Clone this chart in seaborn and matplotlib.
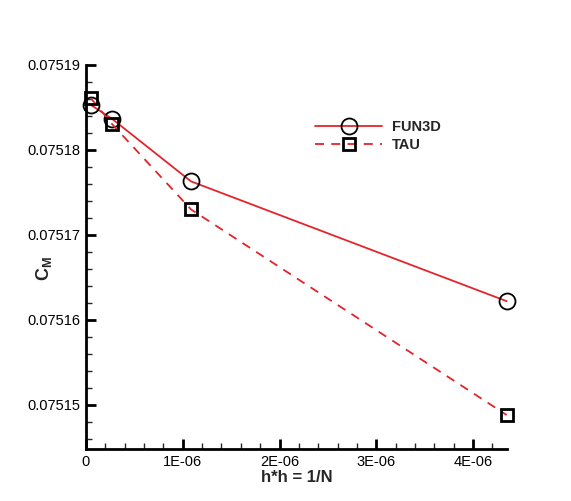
import matplotlib
matplotlib.use("Agg")
import matplotlib.pyplot as plt
import seaborn as sns
import pandas as pd
from matplotlib.ticker import MultipleLocator, FuncFormatter

# Data
h2 = [5.0e-8, 2.65e-7, 1.085e-6, 4.346e-6]
fun3d = [0.0751853, 0.0751837, 0.0751763, 0.0751622]
tau = [0.0751861, 0.0751831, 0.0751730, 0.0751488]
series_names = ["FUN3D", "TAU"]

sns.set_style("white")
plt.rcParams['font.family'] = ['Liberation Sans', 'DejaVu Sans']
plt.rcParams['mathtext.fontset'] = 'custom'
plt.rcParams['mathtext.bf'] = 'Liberation Sans:weight=bold'
plt.rcParams['mathtext.rm'] = 'Liberation Sans'
plt.rcParams['mathtext.it'] = 'Liberation Sans:weight=bold'
plt.rcParams['mathtext.default'] = 'bf'

fig = plt.figure(figsize=(5.71, 5.01), dpi=100)
ax = fig.add_axes([86/571, 1-449/501, (507-86)/571, (449-65)/501])

red = "#e3242b"
df1 = pd.DataFrame({"x": h2, "y": fun3d})
df2 = pd.DataFrame({"x": h2, "y": tau})
sns.lineplot(data=df1, x="x", y="y", ax=ax, color=red, lw=1.3, marker="o",
             markersize=11.5, markerfacecolor="none", markeredgecolor="black",
             markeredgewidth=1.3, label=series_names[0], sort=False, clip_on=False)
sns.lineplot(data=df2, x="x", y="y", ax=ax, color=red, lw=1.3, linestyle=(0, (5, 4)),
             marker="s", markersize=8.5, markerfacecolor="none", markeredgecolor="black",
             markeredgewidth=2.0, label=series_names[1], sort=False, clip_on=False)

ax.set_xlim(0, 4.35e-6)
ax.set_ylim(0.0751448, 0.07519)

for s in ["top", "right"]:
    ax.spines[s].set_visible(False)
for s in ["left", "bottom"]:
    ax.spines[s].set_linewidth(2.0)
    ax.spines[s].set_color("black")

ax.xaxis.set_major_locator(MultipleLocator(1e-6))
ax.xaxis.set_minor_locator(MultipleLocator(2e-7))
ax.yaxis.set_major_locator(MultipleLocator(1e-5))
ax.yaxis.set_minor_locator(MultipleLocator(2e-6))

def xfmt(v, p):
    if abs(v) < 1e-12:
        return "0"
    return "%dE-06" % round(v / 1e-6)
ax.xaxis.set_major_formatter(FuncFormatter(xfmt))
ax.yaxis.set_major_formatter(FuncFormatter(lambda v, p: "%.5f" % v))

ax.tick_params(which="major", direction="in", length=7, width=2, labelsize=10.5, pad=4, colors="black",
               bottom=True, left=True)
ax.tick_params(which="minor", direction="in", length=4, width=1, bottom=True, left=True)

ax.set_xlabel("h*h = 1/N", fontsize=12, fontweight="bold", labelpad=1)
ax.set_ylabel(r"$C_M$", fontsize=13, fontweight="bold")
ax.yaxis.set_label_coords(-0.075, 0.47)

leg = ax.legend(loc="upper left", bbox_to_anchor=(315/571, 1-120/501), bbox_transform=fig.transFigure,
                frameon=False, borderpad=0, borderaxespad=0, handlelength=4.6, handletextpad=0.7,
                labelspacing=0.3, prop={"weight": "bold", "size": 10.5})

fig.savefig("out.png", dpi=100)
